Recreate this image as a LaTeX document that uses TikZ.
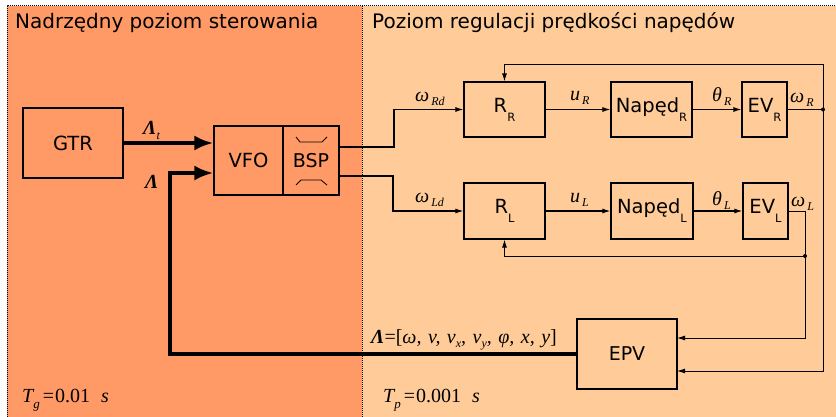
\documentclass[tikz,border=0pt]{standalone}
\usepackage{fontspec}
\setmainfont{DejaVu Sans}
\newfontfamily\tms{Liberation Serif}
\usetikzlibrary{arrows.meta,calc}
\definecolor{leftc}{HTML}{FF9966}
\definecolor{rightc}{HTML}{FFCC99}
\newcommand\mlab[2]{{\tms\itshape #1}\raisebox{-4pt}{\fontsize{12}{12}\selectfont\tms\itshape\,#2}}
\newcommand\bsub[2]{#1\raisebox{-9pt}{\fontsize{11.5}{11.5}\selectfont #2}}
\newcommand\msub[1]{\raisebox{-4.5pt}{\fontsize{12}{12}\selectfont\tms\itshape #1}}
\newcommand\cm{{\itshape ,}\hspace{6.5pt}}
\begin{document}
\begin{tikzpicture}[x=1pt,y=-1pt,
  blk/.style={draw, line width=1.2pt, inner sep=0pt, font=\fontsize{19.5}{20}\selectfont},
  sig/.style={line width=1.1pt, -{Latex[length=8pt,width=5pt]}},
  fbl/.style={line width=0.9pt},
  fba/.style={line width=0.9pt, -{Latex[length=8pt,width=5pt]}},
  bigarr/.style={line width=4pt, -{Latex[length=19pt,width=15pt]}},
  lab/.style={font=\fontsize{20}{20}\selectfont\tms, inner sep=0pt, anchor=base west},
  ttl/.style={font=\fontsize{20}{20}\selectfont, inner sep=0pt, anchor=base west},
  border/.style={line width=1pt, dash pattern=on 1pt off 1pt},
  dotn/.style={circle, fill, inner sep=0pt, minimum size=4pt}]
\useasboundingbox (0,0) rectangle (836,417);
% regions
\fill[leftc] (7,6) rectangle (362,417);
\fill[rightc] (362,6) rectangle (836,417);
\draw[border] (7,417) -- (7,6) -- (836,6);
\draw[border] (362,6) -- (362,417);
\node[ttl] (t1) at (15,29) {Nadrzędny poziom sterowania};
\node[ttl] (t2) at (372,29) {Poziom regulacji prędkości napędów};
% blocks
\node[blk, minimum width=100pt, minimum height=70pt] (gtr) at (73,143) {GTR};
\node[blk, minimum width=69pt, minimum height=69pt] (vfo) at (248.5,160.5) {VFO};
\node[blk, minimum width=56pt, minimum height=69pt, font=\fontsize{19}{19}\selectfont] (bsp) at (311,160.5) {BSP};
\node[blk, minimum width=81pt, minimum height=55pt] (rr) at (504.5,109.5) {\bsub{R}{R}};
\node[blk, minimum width=81pt, minimum height=55pt] (nr) at (651.5,109.5) {\bsub{Napęd}{R}};
\node[blk, minimum width=45pt, minimum height=55pt] (evr) at (764.5,109.5) {\bsub{EV}{R}};
\node[blk, minimum width=81pt, minimum height=56pt] (rl) at (504.5,211) {\bsub{R}{L}};
\node[blk, minimum width=82pt, minimum height=56pt] (nl) at (652,211) {\bsub{Napęd}{L}};
\node[blk, minimum width=45pt, minimum height=56pt] (evl) at (765.5,211) {\bsub{EV}{L}};
\node[blk, minimum width=100pt, minimum height=70pt, font=\fontsize{19}{19}\selectfont] (epv) at (627,354) {EPV};
% BSP symbols
\draw[line width=0.8pt] ([shift={(-15,-23.5)}]bsp.center) -- ([shift={(-11,-18.5)}]bsp.center) -- ([shift={(11,-18.5)}]bsp.center) -- ([shift={(16,-23.5)}]bsp.center);
\draw[line width=0.8pt] ([shift={(-15,24.5)}]bsp.center) -- ([shift={(-10,19.5)}]bsp.center) -- ([shift={(10,19.5)}]bsp.center) -- ([shift={(16,24.5)}]bsp.center);
% thick arrows
\draw[bigarr] (gtr.east) -- (gtr.east -| vfo.west);
\coordinate (lc1) at (170,354);
\coordinate (lc2) at (170,173);
\draw[bigarr] (epv.west) -- (lc1) -- (lc2) -- (lc2 -| vfo.west);
% BSP outputs
\coordinate (bo1) at (394,147);
\coordinate (bo2) at (393,176);
\draw[sig] (bsp.east |- bo1) -- (bo1) |- (rr.west);
\draw[sig] (bsp.east |- bo2) -- (bo2) |- (rl.west);
% forward chain
\draw[sig] (rr.east) -- (nr.west);
\draw[sig] (nr.east) -- (evr.west);
\draw[sig] (rl.east) -- (nl.west);
\draw[sig] (nl.east) -- (evl.west);
% feedback
\coordinate (jr) at (823,109.5);
\coordinate (tr) at (823,64);
\coordinate (jl) at (805,256);
\coordinate (er) at (677,371);
\coordinate (el) at (677,338);
\draw[fbl] (evr.east) -- (jr);
\draw[fba] (jr) -- (tr) -| (rr.north);
\draw[fba] (jr) |- (er);
\draw[fbl] (evl.east) -| (jl);
\draw[fba] (jl) -| (rl.south);
\draw[fba] (jl) |- (el);
\node[dotn] (d1) at (jr) {};
\node[dotn] (d2) at (jl) {};
% labels
\node[lab] (lwrd) at (415,102) {\mlab{ω}{Rd}};
\node[lab] (lwld) at (415,203) {\mlab{ω}{Ld}};
\node[lab] (lur) at (570,101) {\mlab{u}{R}};
\node[lab] (lul) at (570,203) {\mlab{u}{L}};
\node[lab] (lthr) at (712,102) {\mlab{θ}{R}};
\node[lab] (lthl) at (712,205) {\mlab{θ}{L}};
\node[lab] (lwr) at (790,103) {\mlab{ω}{R}};
\node[lab] (lwl) at (791,207) {\mlab{ω}{L}};
\node[lab] (llt) at (143,135) {{\bfseries\itshape Λ}\msub{t}};
\node[lab] (ll) at (145,189) {{\bfseries\itshape Λ}};
\node[lab] (lvec) at (371,343) {{\bfseries\itshape Λ}=[{\itshape ω}\cm{\itshape v}\cm{\itshape v}\msub{x}\cm{\itshape v}\msub{y}\cm{\itshape φ}\cm{\itshape x}\cm{\itshape y}]};
\node[lab] (ltg) at (22,402) {{\itshape T}\raisebox{-6pt}{\fontsize{13}{13}\selectfont\itshape g}\hspace{3pt}=\hspace{1pt}0.01\hspace{11pt}{\itshape s}};
\node[lab] (ltp) at (383,402) {{\itshape T}\raisebox{-6pt}{\fontsize{13}{13}\selectfont\itshape p}\hspace{3pt}=\hspace{1pt}0.001\hspace{11pt}{\itshape s}};
\end{tikzpicture}
\end{document}
